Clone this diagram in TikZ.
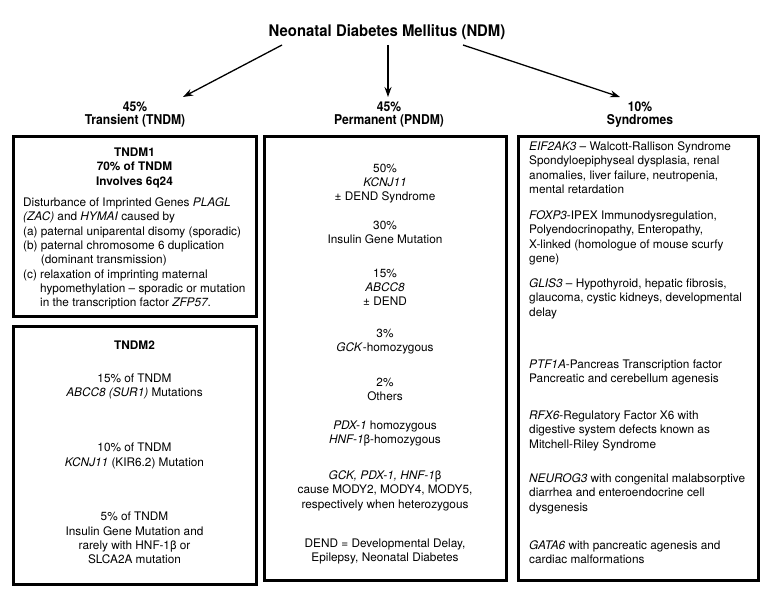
\documentclass[tikz,border=0pt]{standalone}
\usepackage{fontspec}
\setmainfont{TeX Gyre Heros}
\newfontfamily\condfont[FakeStretch=0.9]{TeX Gyre Heros}
\newfontfamily\titlefont[FakeStretch=0.93]{TeX Gyre Heros}
\usetikzlibrary{arrows.meta}
\begin{document}
\begin{tikzpicture}[x=1pt,y=-1pt,
  box/.style={draw, line width=3pt},
  body/.style={font=\fontsize{11.8}{14.3}\selectfont, inner sep=0pt},
  cbody/.style={body, align=center, anchor=north},
  lbody/.style={body, align=left, anchor=north west},
  bhead/.style={cbody, font=\bfseries\fontsize{11.8}{14.3}\selectfont},
  hdr/.style={font=\condfont\bfseries\fontsize{13.5}{13.5}\selectfont, align=center, inner sep=0pt},
  arr/.style={-{Stealth[length=10pt,width=7pt]}, line width=1.3pt}]
\useasboundingbox (0,0) rectangle (768,594);

% title and category labels
\node[font=\titlefont\bfseries\fontsize{16}{18}\selectfont, inner sep=0pt] (title) at (387,32) {Neonatal Diabetes Mellitus (NDM)};
\node[hdr] (lt) at (135,114.5) {45\%\\Transient (TNDM)};
\node[hdr] (pm) at (389,114.5) {45\%\\Permanent (PNDM)};
\node[hdr] (sy) at (640,114.5) {10\%\\Syndromes};

\draw[arr] ([shift={(-105pt,-13pt)}]title.center) -- ([shift={(48pt,17.5pt)}]lt.center);
\draw[arr] ([shift={(1pt,-13pt)}]title.center) -- ([shift={(-1pt,17.5pt)}]pm.center);
\draw[arr] ([shift={(76pt,-13pt)}]title.center) -- ([shift={(-20pt,17.5pt)}]sy.center);

% boxes
\draw[box] (13,136) rectangle (256,316);
\draw[box] (13,326) rectangle (256,584);
\draw[box] (264,136) rectangle (506,580);
\draw[box] (518,136) rectangle (758,580);

% TNDM1
\node[bhead] (t1h) at (134.5,147.6) {TNDM1\\70\% of TNDM\\Involves 6q24};
\node[lbody] (t1b) at (23,197.6) {Disturbance of Imprinted Genes \textit{PLAGL}\\
\textit{(ZAC)} and \textit{HYMAI} caused by\\
(a) paternal uniparental disomy (sporadic)\\
(b) paternal chromosome 6 duplication\\
\phantom{(b) }(dominant transmission)\\
(c) relaxation of imprinting maternal\\
\phantom{(c) }hypomethylation – sporadic or mutation\\
\phantom{(c) }in the transcription factor \textit{ZFP57}.};

% TNDM2
\node[bhead] (t2h) at (134.5,340.6) {TNDM2};
\node[cbody] (t2a) at (134.5,373.6) {15\% of TNDM\\\textit{ABCC8 (SUR1)} Mutations};
\node[cbody] (t2b) at (134.5,443) {10\% of TNDM\\\textit{KCNJ11} (KIR6.2) Mutation};
\node[cbody] (t2c) at (134.5,512) {5\% of TNDM\\Insulin Gene Mutation and\\rarely with HNF-1β or\\SLCA2A mutation};

% PNDM
\node[cbody] (p1) at (385,163.6) {50\%\\\textit{KCNJ11}\\± DEND Syndrome};
\node[cbody] (p2) at (385,220.6) {30\%\\Insulin Gene Mutation};
\node[cbody] (p3) at (385,268.6) {15\%\\\textit{ABCC8}\\± DEND};
\node[cbody] (p4) at (385,328.6) {3\%\\\textit{GCK}-homozygous};
\node[cbody] (p5) at (385,377.6) {2\%\\Others};
\node[cbody] (p6) at (385,420.6) {\textit{PDX-1} homozygous\\\textit{HNF-1}β-homozygous};
\node[cbody] (p7) at (385,470.6) {\textit{GCK, PDX-1, HNF-1}β\\cause MODY2, MODY4, MODY5,\\respectively when heterozygous};
\node[cbody] (p8) at (385,538.6) {DEND = Developmental Delay,\\Epilepsy, Neonatal Diabetes};

% Syndromes
\node[lbody] (s1) at (529,141.6) {\textit{EIF2AK3} – Walcott-Rallison Syndrome\\Spondyloepiphyseal dysplasia, renal\\anomalies, liver failure, neutropenia,\\mental retardation};
\node[lbody] (s2) at (529,210.6) {\textit{FOXP3}-IPEX Immunodysregulation,\\Polyendocrinopathy, Enteropathy,\\X-linked (homologue of mouse scurfy\\gene)};
\node[lbody] (s3) at (529,278.6) {\textit{GLIS3} – Hypothyroid, hepatic fibrosis,\\glaucoma, cystic kidneys, developmental\\delay};
\node[lbody] (s4) at (529,359.6) {\textit{PTF1A}-Pancreas Transcription factor\\Pancreatic and cerebellum agenesis};
\node[lbody] (s5) at (529,410.6) {\textit{RFX6}-Regulatory Factor X6 with\\digestive system defects known as\\Mitchell-Riley Syndrome};
\node[lbody] (s6) at (529,473.6) {\textit{NEUROG3} with congenital malabsorptive\\diarrhea and enteroendocrine cell\\dysgenesis};
\node[lbody] (s7) at (529,540.6) {\textit{GATA6} with pancreatic agenesis and\\cardiac malformations};
\end{tikzpicture}
\end{document}
